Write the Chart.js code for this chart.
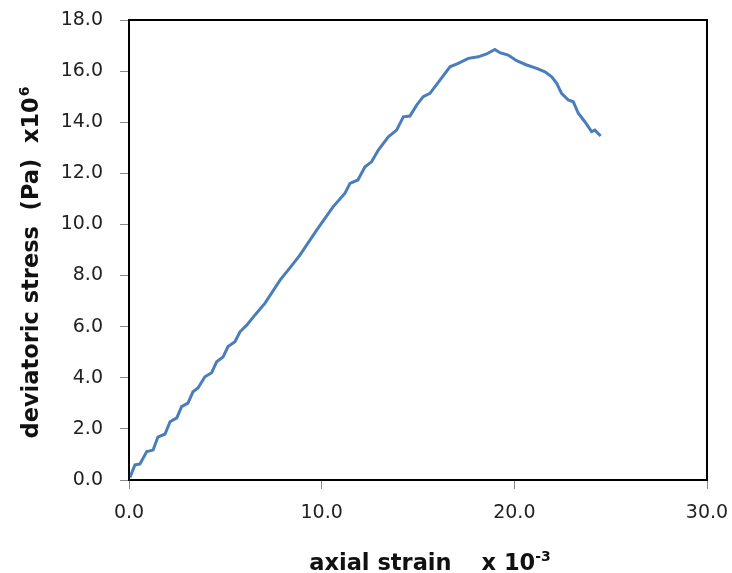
<!DOCTYPE html>
<html>
<head>
<meta charset="utf-8">
<script src="https://cdn.jsdelivr.net/npm/chart.js@4/dist/chart.umd.min.js"></script>
<style>
  html, body { margin: 0; padding: 0; background: #fff; }
  #wrap { width: 732px; height: 573px; position: relative; }
</style>
</head>
<body>
<div id="wrap"><canvas id="chart"></canvas></div>
<script>
const strain = [0.05, 0.31, 0.57, 0.92, 1.25, 1.5, 1.87, 2.13, 2.48, 2.73, 3.06, 3.32, 3.58, 3.94, 4.29, 4.55, 4.88, 5.14, 5.5, 5.76, 6.11, 6.54, 7.06, 7.84, 8.35, 8.87, 9.74, 10.59, 11.21, 11.47, 11.88, 12.25, 12.59, 12.94, 13.46, 13.89, 14.24, 14.58, 14.93, 15.27, 15.62, 16.14, 16.66, 17.09, 17.61, 18.13, 18.56, 18.99, 19.25, 19.68, 20.12, 20.64, 21.16, 21.59, 21.94, 22.2, 22.45, 22.8, 23.06, 23.32, 23.66, 24.01, 24.18, 24.48];
const stress = [0.1, 0.59, 0.63, 1.11, 1.17, 1.68, 1.8, 2.28, 2.43, 2.87, 3.01, 3.45, 3.6, 4.04, 4.2, 4.63, 4.81, 5.22, 5.41, 5.8, 6.06, 6.46, 6.92, 7.82, 8.3, 8.8, 9.78, 10.69, 11.22, 11.61, 11.74, 12.26, 12.45, 12.91, 13.43, 13.69, 14.21, 14.24, 14.67, 15.0, 15.13, 15.65, 16.17, 16.3, 16.5, 16.56, 16.67, 16.85, 16.72, 16.63, 16.41, 16.24, 16.11, 15.97, 15.78, 15.52, 15.13, 14.87, 14.8, 14.35, 14.02, 13.63, 13.69, 13.46];

const xTitle = ["axial strain", "x 10", "-3"];
const yTitle = ["deviatoric stress  (Pa)  x10", "6"];

const points = strain.map((x, i) => ({ x, y: stress[i] }));

const tickFont = { family: "DejaVu Sans", size: 19 };
const titleFont = "bold 22.5px 'DejaVu Sans'";
const supFont = "bold 14px 'DejaVu Sans'";

// frame on top/right plus the two axis titles with superscripts
const framePlugin = {
  id: "frame",
  afterDraw(chart) {
    const { ctx, chartArea } = chart;
    ctx.save();
    ctx.strokeStyle = "#000";
    ctx.lineWidth = 2;
    ctx.strokeRect(chartArea.left, chartArea.top, chartArea.width, chartArea.height);

    ctx.fillStyle = "#111";
    ctx.textBaseline = "alphabetic";

    // x title
    ctx.font = titleFont;
    const w1 = ctx.measureText(xTitle[0]).width;
    const gap = 30;
    const w2 = ctx.measureText(xTitle[1]).width;
    ctx.font = supFont;
    const w3 = ctx.measureText(xTitle[2]).width;
    const total = w1 + gap + w2 + w3;
    let x = chartArea.left + chartArea.width / 2 + 12 - total / 2;
    const base = 570;
    ctx.font = titleFont;
    ctx.fillText(xTitle[0], x, base);
    x += w1 + gap;
    ctx.fillText(xTitle[1], x, base);
    x += w2;
    ctx.font = supFont;
    ctx.fillText(xTitle[2], x, base - 9);

    // y title, rotated
    ctx.translate(38, chartArea.top + chartArea.height / 2 + 13);
    ctx.rotate(-Math.PI / 2);
    ctx.font = titleFont;
    const v1 = ctx.measureText(yTitle[0]).width;
    ctx.font = supFont;
    const v2 = ctx.measureText(yTitle[1]).width;
    let yx = -(v1 + v2) / 2;
    ctx.font = titleFont;
    ctx.fillText(yTitle[0], yx, 0);
    yx += v1;
    ctx.font = supFont;
    ctx.fillText(yTitle[1], yx + 1, -9);
    ctx.restore();
  },
};

new Chart(document.getElementById("chart"), {
  type: "scatter",
  data: {
    datasets: [
      {
        data: points,
        showLine: true,
        borderColor: "#4a7ebb",
        borderWidth: 3,
        pointRadius: 0,
        tension: 0,
      },
    ],
  },
  options: {
    responsive: true,
    maintainAspectRatio: false,
    animation: false,
    layout: { padding: { top: 20, right: 25, left: 0, bottom: 0 } },
    plugins: {
      legend: { display: false },
      tooltip: { enabled: false },
    },
    scales: {
      x: {
        type: "linear",
        min: 0,
        max: 30,
        afterFit: (scale) => {
          scale.height = 93;
          scale.paddingLeft = 0;
          scale.paddingRight = 0;
        },
        border: { color: "#000", width: 2 },
        grid: { drawOnChartArea: false, tickLength: 9, tickColor: "#888", tickWidth: 1 },
        ticks: {
          stepSize: 10,
          padding: 13,
          color: "#222",
          font: tickFont,
          maxRotation: 0,
          callback: (v) => v.toFixed(1),
        },
      },
      y: {
        min: 0,
        max: 18,
        afterFit: (scale) => {
          scale.width = 129;
          scale.paddingTop = 0;
          scale.paddingBottom = 0;
        },
        border: { color: "#000", width: 2 },
        grid: { drawOnChartArea: false, tickLength: 9, tickColor: "#888", tickWidth: 1 },
        ticks: {
          stepSize: 2,
          padding: 17,
          color: "#222",
          font: tickFont,
          callback: (v) => v.toFixed(1),
        },
      },
    },
  },
  plugins: [framePlugin],
});
</script>
</body>
</html>
